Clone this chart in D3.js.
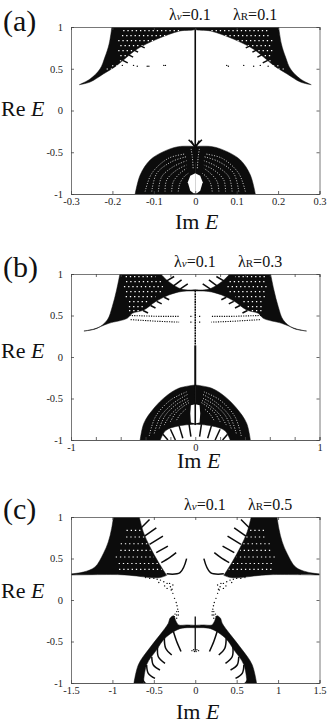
<!DOCTYPE html>
<html><head><meta charset="utf-8">
<script src="https://cdn.jsdelivr.net/npm/d3@7"></script>
<style>
html,body{margin:0;padding:0;background:#fff;overflow:hidden}
svg{display:block;font-family:"Liberation Serif",serif}
</style></head><body><svg id="c" width="327" height="726"></svg>
<script>
// ---------- tick values ----------
const xTicksA=[-0.3,-0.2,-0.1,0,0.1,0.2,0.3];
const xTicksB=[-1,-0.8,-0.6,-0.4,-0.2,0,0.2,0.4,0.6,0.8,1];
const xLabelsB=[-1,0,1];
const xTicksC=[-1.5,-1,-0.5,0,0.5,1,1.5];
const yTicks=[-1,-0.5,0,0.5,1];
// ---------- panel (a), left half; mirrored about Im E = 0 ----------
const wingA=[[-0.28,0.309],[-0.28,0.309],[-0.254,0.377],[-0.23,0.497],[-0.218,0.64],[-0.208,0.796],[-0.2,1.05],[-0.2,1.05],[0,1.05],[0,1.05],[0,0.976],[-0.037,0.952],[-0.092,0.856],[-0.14,0.737],[-0.165,0.64],[-0.19,0.537],[-0.222,0.437],[-0.254,0.341],[-0.28,0.309]];
const domeA=[[-0.147,-1.05],[-0.147,-1.05],[-0.133,-0.772],[-0.109,-0.593],[-0.077,-0.493],[-0.041,-0.433],[0,-0.43],[0,-0.43],[0,-1.05],[0,-1.05],[-0.147,-1.05]];
const holeA=[[0,-0.75],[-0.012,-0.78],[-0.018,-0.86],[-0.012,-0.96],[-0.004,-0.99],[0,-0.99]];
const latticeA=[
 [[-0.174,0.956],[-0.037,0.956]],[[-0.182,0.896],[-0.068,0.896]],[[-0.186,0.836],[-0.102,0.836]],
 [[-0.186,0.776],[-0.126,0.776]],[[-0.186,0.716],[-0.138,0.716]],[[-0.186,0.656],[-0.159,0.656]],
 [[-0.182,0.596],[-0.17,0.596]],[[-0.206,0.536],[-0.17,0.536]],[[-0.214,0.497],[-0.194,0.497]]];
const arcsA=[
 [[-0.121,-0.97],[-0.105,-0.753],[-0.065,-0.573],[-0.025,-0.521]],
 [[-0.105,-0.97],[-0.093,-0.753],[-0.057,-0.613],[-0.021,-0.553]],
 [[-0.089,-0.97],[-0.081,-0.793],[-0.053,-0.673],[-0.021,-0.601]],
 [[-0.073,-0.97],[-0.069,-0.833],[-0.045,-0.713],[-0.021,-0.653]],
 [[-0.057,-0.97],[-0.053,-0.853],[-0.037,-0.753],[-0.021,-0.693]],
 [[-0.041,-0.97],[-0.037,-0.873],[-0.027,-0.793],[-0.017,-0.753]],
 [[-0.01,-0.46],[-0.007,-0.56],[-0.005,-0.7]]];
const hairsA=[[[-0.016,-0.35],[0,-0.43]],[[-0.01,-0.36],[0,-0.45]],
 [[-0.175,0.6],[-0.163,0.57]],[[-0.162,0.67],[-0.15,0.64]],[[-0.15,0.73],[-0.138,0.7]],[[-0.135,0.78],[-0.122,0.75]]];
const dotsA=[[-0.176,0.54],[-0.149,0.54],[-0.14,0.53],[-0.116,0.53],[-0.112,0.53],[-0.076,0.54],[-0.072,0.54],[0.076,0.54],[0.08,0.53],[0.117,0.54],[0.141,0.53],[0.157,0.54],[0.176,0.53]];
const spineA=[[0,1],[0,-0.62]];
// ---------- panel (b) ----------
const wingB=[[-0.896,0.313],[-0.896,0.313],[-0.789,0.346],[-0.708,0.446],[-0.668,0.606],[-0.633,0.807],[-0.6,1.05],[-0.6,1.05],[-0.31,1.05],[-0.31,1.05],[-0.213,0.907],[-0.106,0.816],[0,0.81],[0,0.81],[0,0.795],[0,0.795],[-0.106,0.79],[-0.213,0.747],[-0.32,0.667],[-0.414,0.566],[-0.507,0.526],[-0.548,0.466],[-0.695,0.406],[-0.815,0.337],[-0.896,0.313]];
const domeB=[[-0.448,-1.05],[-0.448,-1.05],[-0.414,-0.8],[-0.333,-0.618],[-0.24,-0.478],[-0.133,-0.377],[0,-0.337],[0,-0.337],[0,-0.81],[0,-0.81],[-0.133,-0.83],[-0.24,-0.89],[-0.293,-1.05],[-0.293,-1.05],[-0.448,-1.05]];
const holeB=[[0,-0.57],[-0.035,-0.58],[-0.04,-0.68],[-0.035,-0.79],[0,-0.8]];
const latticeB=[
 [[-0.56,0.968],[-0.32,0.968]],[[-0.574,0.907],[-0.27,0.907]],[[-0.574,0.847],[-0.24,0.847]],[[-0.574,0.787],[-0.27,0.787]],
 [[-0.56,0.727],[-0.32,0.727]],[[-0.55,0.667],[-0.374,0.667]],[[-0.534,0.606],[-0.414,0.606]],[[-0.55,0.558],[-0.454,0.558]]];
const arcsB=[
 [[-0.37,-0.95],[-0.32,-0.72],[-0.2,-0.52],[-0.07,-0.42]],
 [[-0.33,-0.92],[-0.28,-0.72],[-0.17,-0.55],[-0.06,-0.45]],
 [[-0.29,-0.86],[-0.24,-0.7],[-0.15,-0.57],[-0.05,-0.49]],
 [[-0.25,-0.82],[-0.2,-0.7],[-0.12,-0.59],[-0.05,-0.52]],
 [[-0.2,-0.78],[-0.16,-0.68],[-0.1,-0.6],[-0.05,-0.55]],
 [[-0.15,-0.76],[-0.12,-0.69],[-0.07,-0.62]]];
const hairsB=[
 [[-0.3,0.985],[-0.24,1.02]],[[-0.25,0.9],[-0.17,0.97]],[[-0.18,0.85],[-0.11,0.93]],[[-0.12,0.82],[-0.06,0.88]],
 [[-0.05,-0.81],[-0.035,-0.96]],[[-0.13,-0.83],[-0.1,-0.98]],[[-0.2,-0.87],[-0.16,-1]],[[-0.26,-0.93],[-0.22,-1]],
 [[-0.36,0.62],[-0.32,0.59]],[[-0.31,0.67],[-0.27,0.64]],[[-0.25,0.72],[-0.21,0.69]],[[-0.42,0.56],[-0.38,0.53]]];
const rowsB=[[[-0.53,0.5],[-0.3,0.49],[-0.13,0.49]],[[-0.52,0.45],[-0.3,0.43],[-0.13,0.42]],[[-0.04,0.49],[-0.02,0.49]],[[-0.04,0.42],[-0.02,0.42]]];
const spineUpperB=[[0,0.8],[0,0.14]];
const spineLowerB=[[0,0.14],[0,-0.35]];
const spineInnerB=[[0,-0.55],[0,-0.82]];
// ---------- panel (c) ----------
const wingC=[[-1.55,0.31],[-1.55,0.31],[-1.35,0.337],[-1.21,0.398],[-1.11,0.558],[-1.05,0.699],[-1.01,0.859],[-0.98,1.05],[-0.98,1.05],[-0.687,1.05],[-0.687,1.05],[-0.627,0.82],[-0.546,0.639],[-0.446,0.458],[-0.345,0.297],[-0.345,0.297],[-0.426,0.27],[-0.546,0.27],[-0.707,0.289],[-0.909,0.305],[-1.55,0.3],[-1.55,0.3]];
const domeC=[[-0.748,-1.05],[-0.748,-1.05],[-0.687,-0.78],[-0.567,-0.6],[-0.426,-0.42],[-0.325,-0.28],[-0.305,-0.22],[-0.26,-0.19],[-0.235,-0.25],[-0.2,-0.3],[-0.1,-0.3],[0,-0.305],[0,-0.305],[0,-0.335],[0,-0.335],[-0.184,-0.345],[-0.365,-0.46],[-0.466,-0.6],[-0.587,-0.78],[-0.63,-1.05],[-0.63,-1.05],[-0.748,-1.05]];
const latticeC=[
 [[-0.92,0.37],[-0.405,0.37]],[[-0.95,0.44],[-0.45,0.44]],[[-0.96,0.518],[-0.5,0.518]],[[-0.93,0.598],[-0.54,0.598]],
 [[-0.9,0.678],[-0.58,0.678]],[[-0.86,0.759],[-0.61,0.759]],[[-0.83,0.84],[-0.65,0.84]]];
const arcsC=[];
const hairsC=[
 [[-0.652,0.87],[-0.552,0.97]],[[-0.612,0.77],[-0.47,0.87]],[[-0.552,0.671],[-0.39,0.77]],[[-0.471,0.571],[-0.33,0.65]],
 [[-0.41,0.45],[-0.31,0.51],[-0.23,0.57]],[[-0.345,0.315],[-0.184,0.33],[-0.104,0.498]],
 [[-0.264,-0.38],[-0.224,-0.5],[-0.172,-0.62]],[[-0.373,-0.462],[-0.357,-0.582],[-0.284,-0.663]],
 [[-0.454,-0.562],[-0.446,-0.683],[-0.365,-0.763]],[[-0.525,-0.683],[-0.506,-0.783],[-0.426,-0.843]],
 [[-0.587,-0.783],[-0.567,-0.883],[-0.486,-0.944]],[[-0.648,-0.924],[-0.607,-1],[-0.525,-1.02]]];
const dotsC=[[-0.5,0.26],[-0.55,0.26],[-0.6,0.27],[-0.46,0.25],[-0.42,0.24],[-0.38,0.22],[-0.44,0.21],[-0.34,0.2],[-0.37,0.17],[-0.31,0.2],[-0.3,0.16],[-0.34,0.14],[-0.28,0.13],[-0.27,0.18],[-0.29,0.12],[-0.27,0.08],[-0.25,0.02],[-0.23,-0.03],[-0.22,-0.07],[-0.212,-0.11],[-0.204,-0.14],[-0.224,-0.18],[-0.224,-0.14],[-0.244,-0.17],[-0.204,-0.18],[-0.252,-0.2],[-0.224,-0.22],[-0.04,-0.61],[-0.02,-0.6],[-0.01,-0.62]];
const spineC=[[0,-0.2],[0,-0.61]];

// ---------- layout ----------
function mirrorOf(a){return a.map(([x,y])=>[-x,y]);}
const panels=[
 {tag:"(a)",rv:"0.1",rr:"0.1",y0:27,y1:194,xd:[-0.3,0.3],ticks:xTicksA,labels:xTicksA,
  tagY:31,reY:116,imX:175,imY:229,t1:169,t2:233,tY:20,
  fills:[wingA,domeA],lattice:latticeA,arcs:arcsA,holes:[holeA],hairs:hairsA,rows:[],dots:dotsA,dotsMirror:[],
  spines:[[spineA,1.6]]},
 {tag:"(b)",rv:"0.1",rr:"0.3",y0:274,y1:440,xd:[-1,1],ticks:xTicksB,labels:xLabelsB,
  tagY:277,reY:358,imX:177,imY:468,t1:174,t2:238,tY:267,
  fills:[wingB,domeB],lattice:latticeB,arcs:arcsB,holes:[holeB],hairs:hairsB,rows:rowsB,dots:[],dotsMirror:[],
  spines:[[spineUpperB,1.5,"2 0.6"],[spineLowerB,2],[spineInnerB,1.6]]},
 {tag:"(c)",rv:"0.1",rr:"0.5",y0:517,y1:683,xd:[-1.5,1.5],ticks:xTicksC,labels:xTicksC,
  tagY:519,reY:598,imX:176,imY:719,t1:184,t2:248,tY:510,
  fills:[wingC,domeC],lattice:latticeC,arcs:arcsC,holes:[],hairs:hairsC,rows:[],dots:dotsC,dotsMirror:mirrorOf(dotsC),
  spines:[[spineC,1.3]]}
];
const svg=d3.select("#c");
const LEFT=71,RIGHT=319.5,INK="#0c0c0c";
panels.forEach(p=>{
  const x=d3.scaleLinear().domain(p.xd).range([LEFT,RIGHT]);
  const y=d3.scaleLinear().domain([-1,1]).range([p.y1,p.y0]);
  const line=d3.line().x(d=>x(d[0])).y(d=>y(d[1]));
  const curve=d3.line().x(d=>x(d[0])).y(d=>y(d[1])).curve(d3.curveCatmullRom.alpha(0.5));
  const g=svg.append("g");
  const both=a=>[a,mirrorOf(a)];
  const clipId="clip"+p.tag[1];
  g.append("clipPath").attr("id",clipId).append("rect").attr("x",LEFT).attr("y",p.y0).attr("width",RIGHT-LEFT).attr("height",p.y1-p.y0);
  const m=g.append("g").attr("clip-path",`url(#${clipId})`).style("filter","blur(0.35px)");
  p.fills.flatMap(both).forEach(a=>m.append("path").attr("d",curve(a)+"Z").attr("fill",INK).attr("stroke",INK).attr("stroke-width",0.5));
  p.lattice.forEach((a,i)=>both(a).forEach(b=>m.append("path").attr("d",line(b)).attr("fill","none").attr("stroke","#fff").attr("stroke-width",1.2).attr("stroke-dasharray","1.3 2.9").attr("stroke-dashoffset",i%2*2.1)));
  p.arcs.flatMap(both).forEach(a=>m.append("path").attr("d",curve(a)).attr("fill","none").attr("stroke","#fff").attr("stroke-width",0.8).attr("stroke-dasharray","1 1.6"));
  p.holes.flatMap(both).forEach(a=>m.append("path").attr("d",line(a)+"Z").attr("fill","#fff"));
  p.hairs.flatMap(both).forEach(a=>m.append("path").attr("d",curve(a)).attr("fill","none").attr("stroke",INK).attr("stroke-width",1.5));
  p.rows.flatMap(both).forEach(a=>m.append("path").attr("d",line(a)).attr("fill","none").attr("stroke",INK).attr("stroke-width",1.1).attr("stroke-dasharray","1.2 1.2"));
  [...p.dots,...p.dotsMirror].forEach(d=>m.append("circle").attr("cx",x(d[0])).attr("cy",y(d[1])).attr("r",0.7).attr("fill",INK));
  p.spines.forEach(([a,w,dash])=>m.append("path").attr("d",line(a)).attr("stroke",INK).attr("stroke-width",w).attr("stroke-dasharray",dash||null));

  // axes
  const style=s=>{s.select(".domain").attr("stroke","#555").attr("stroke-width",0.8);s.selectAll(".tick line").attr("stroke","#444").attr("stroke-width",0.8);s.selectAll("text").attr("font-size",10.5).attr("fill","#222").attr("font-family","Liberation Serif");};
  g.append("g").attr("transform",`translate(0,${p.y1})`).call(d3.axisBottom(x).tickValues(p.labels).tickSize(0).tickPadding(4).tickFormat(String)).call(style);
  g.append("g").attr("transform",`translate(0,${p.y1})`).call(d3.axisBottom(x).tickValues(p.ticks).tickSize(-3).tickFormat("")).call(style);
  g.append("g").attr("transform",`translate(0,${p.y0})`).call(d3.axisTop(x).tickValues(p.ticks).tickSize(-3).tickFormat("")).call(style);
  g.append("g").attr("transform",`translate(${LEFT},0)`).call(d3.axisLeft(y).tickValues(yTicks).tickSize(-3).tickPadding(8).tickFormat(String)).call(style);
  g.append("g").attr("transform",`translate(${RIGHT},0)`).call(d3.axisRight(y).tickValues(yTicks).tickSize(-3).tickFormat("")).call(style);

  // labels
  g.append("text").attr("x",3).attr("y",p.tagY).attr("font-size",30).attr("fill","#111").text(p.tag);
  const re=g.append("text").attr("x",1).attr("y",p.reY).attr("font-size",22).attr("fill","#111");
  re.append("tspan").text("Re ");re.append("tspan").attr("font-style","italic").text("E");
  const im=g.append("text").attr("x",p.imX).attr("y",p.imY).attr("font-size",22).attr("fill","#111");
  im.append("tspan").text("Im ");im.append("tspan").attr("font-style","italic").text("E");
  const title=(tx,sub,ital,val)=>{const t=g.append("text").attr("x",tx).attr("y",p.tY).attr("font-size",16).attr("fill","#111");
    t.append("tspan").text("λ");const s=t.append("tspan").attr("font-size",11).text(sub);if(ital)s.attr("font-style","italic");t.append("tspan").text("="+val);};
  title(p.t1,"v",true,p.rv);title(p.t2,"R",false,p.rr);
});
</script></body></html>
